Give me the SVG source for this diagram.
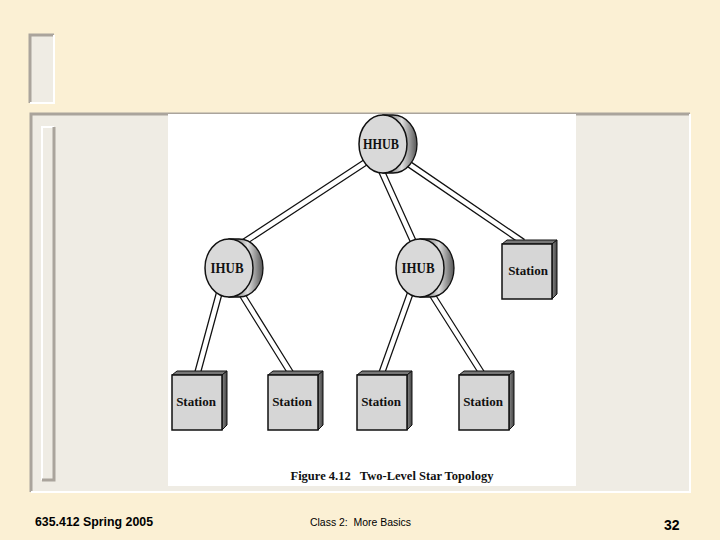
<svg xmlns="http://www.w3.org/2000/svg" width="720" height="540" viewBox="0 0 720 540">
<defs>
<linearGradient id="drum" x1="0" y1="0" x2="1" y2="0">
<stop offset="0" stop-color="#444"/>
<stop offset="0.55" stop-color="#e0e0e0"/>
<stop offset="1" stop-color="#555"/>
</linearGradient>
<linearGradient id="side" x1="0" y1="0" x2="1" y2="0">
<stop offset="0" stop-color="#888"/>
<stop offset="1" stop-color="#444"/>
</linearGradient>
<g id="hub">
<path d="M0,-29 L10,-29 A24,29 0 0 1 10,29 L0,29 Z" fill="url(#drum)" stroke="#111" stroke-width="1.3"/>
<ellipse cx="0" cy="0" rx="24" ry="29" fill="#d9d9d9" stroke="#111" stroke-width="1.5"/>
</g>
<g id="station">
<polygon points="0,0 5,-4 55,-4 50,0" fill="#777" stroke="#111" stroke-width="1"/>
<polygon points="50,0 55,-4 55,50 50,55" fill="url(#side)" stroke="#111" stroke-width="1"/>
<rect x="0" y="0" width="50" height="55" fill="#d6d6d6" stroke="#111" stroke-width="1.5"/>
</g>
</defs>
<style>
.lab{font-family:"Liberation Serif","Times New Roman",serif;font-weight:bold;font-size:13px;fill:#111;text-anchor:middle}
.hl{font-size:15px}
.lk{stroke:#111;stroke-width:7;fill:none}
.lw{stroke:#fff;stroke-width:4.5;fill:none}
.ft{font-family:"Liberation Sans",Arial,sans-serif;fill:#000}
</style>
<rect width="720" height="540" fill="#fbf0d4"/>
<!-- decorations -->
<rect x="30" y="35" width="24" height="68" fill="#efece4"/>
<path d="M30,103 L30,35 L54,35" fill="none" stroke="#aaa49c" stroke-width="3"/>
<path d="M54,35 L54,103 L30,103" fill="none" stroke="#fff" stroke-width="2"/>
<rect x="30" y="113" width="660" height="379" fill="#efece4"/>
<path d="M31,492 L31,114 L690,114" fill="none" stroke="#aaa49c" stroke-width="3"/>
<path d="M690,114 L690,492 L31,492" fill="none" stroke="#fff" stroke-width="2"/>
<rect x="41" y="127" width="13" height="353" fill="#efece4"/>
<path d="M42,480 L42,127 L54,127" fill="none" stroke="#fff" stroke-width="2"/>
<path d="M54,127 L54,480 L42,480" fill="none" stroke="#aaa49c" stroke-width="3"/>
<rect x="168" y="114" width="408" height="372" fill="#fff"/>
<!-- connectors -->
<g id="links">
<path class="lk" d="M366,162 L238,246 M381,170 L414,243 M403,160 L523,242 M219,294 L197,375 M241,293 L292,375 M410,294 L381,375 M431,293 L483,375"/>
<path class="lw" d="M366,162 L238,246 M381,170 L414,243 M403,160 L523,242 M219,294 L197,375 M241,293 L292,375 M410,294 L381,375 M431,293 L483,375"/>
</g>
<g id="hhub">
<use href="#hub" x="383" y="144"/>
<text class="lab hl" x="381" y="149" textLength="36" lengthAdjust="spacingAndGlyphs">HHUB</text>
</g>
<g id="ihub1">
<use href="#hub" x="229" y="268"/>
<text class="lab hl" x="227" y="273" textLength="33" lengthAdjust="spacingAndGlyphs">IHUB</text>
</g>
<g id="ihub2">
<use href="#hub" x="420" y="268"/>
<text class="lab hl" x="418" y="273" textLength="33" lengthAdjust="spacingAndGlyphs">IHUB</text>
</g>
<g id="station-r">
<use href="#station" x="502" y="244"/>
<text class="lab" x="528" y="275">Station</text>
</g>
<g id="station-1">
<use href="#station" x="172" y="375"/>
<text class="lab" x="196" y="406">Station</text>
</g>
<g id="station-2">
<use href="#station" x="268" y="375"/>
<text class="lab" x="292" y="406">Station</text>
</g>
<g id="station-3">
<use href="#station" x="357" y="375"/>
<text class="lab" x="381" y="406">Station</text>
</g>
<g id="station-4">
<use href="#station" x="459" y="375"/>
<text class="lab" x="483" y="406">Station</text>
</g>
<text class="lab" x="392" y="480" style="font-size:12.5px" textLength="203" lengthAdjust="spacingAndGlyphs" xml:space="preserve">Figure 4.12   Two-Level Star Topology</text>
<!-- footer -->
<text class="ft" x="35" y="526" font-size="12" font-weight="bold" textLength="118" lengthAdjust="spacingAndGlyphs">635.412 Spring 2005</text>
<text class="ft" x="310" y="526" font-size="10" textLength="101" lengthAdjust="spacingAndGlyphs" xml:space="preserve">Class 2:  More Basics</text>
<text class="ft" x="664" y="530" font-size="14" font-weight="bold">32</text>
</svg>
